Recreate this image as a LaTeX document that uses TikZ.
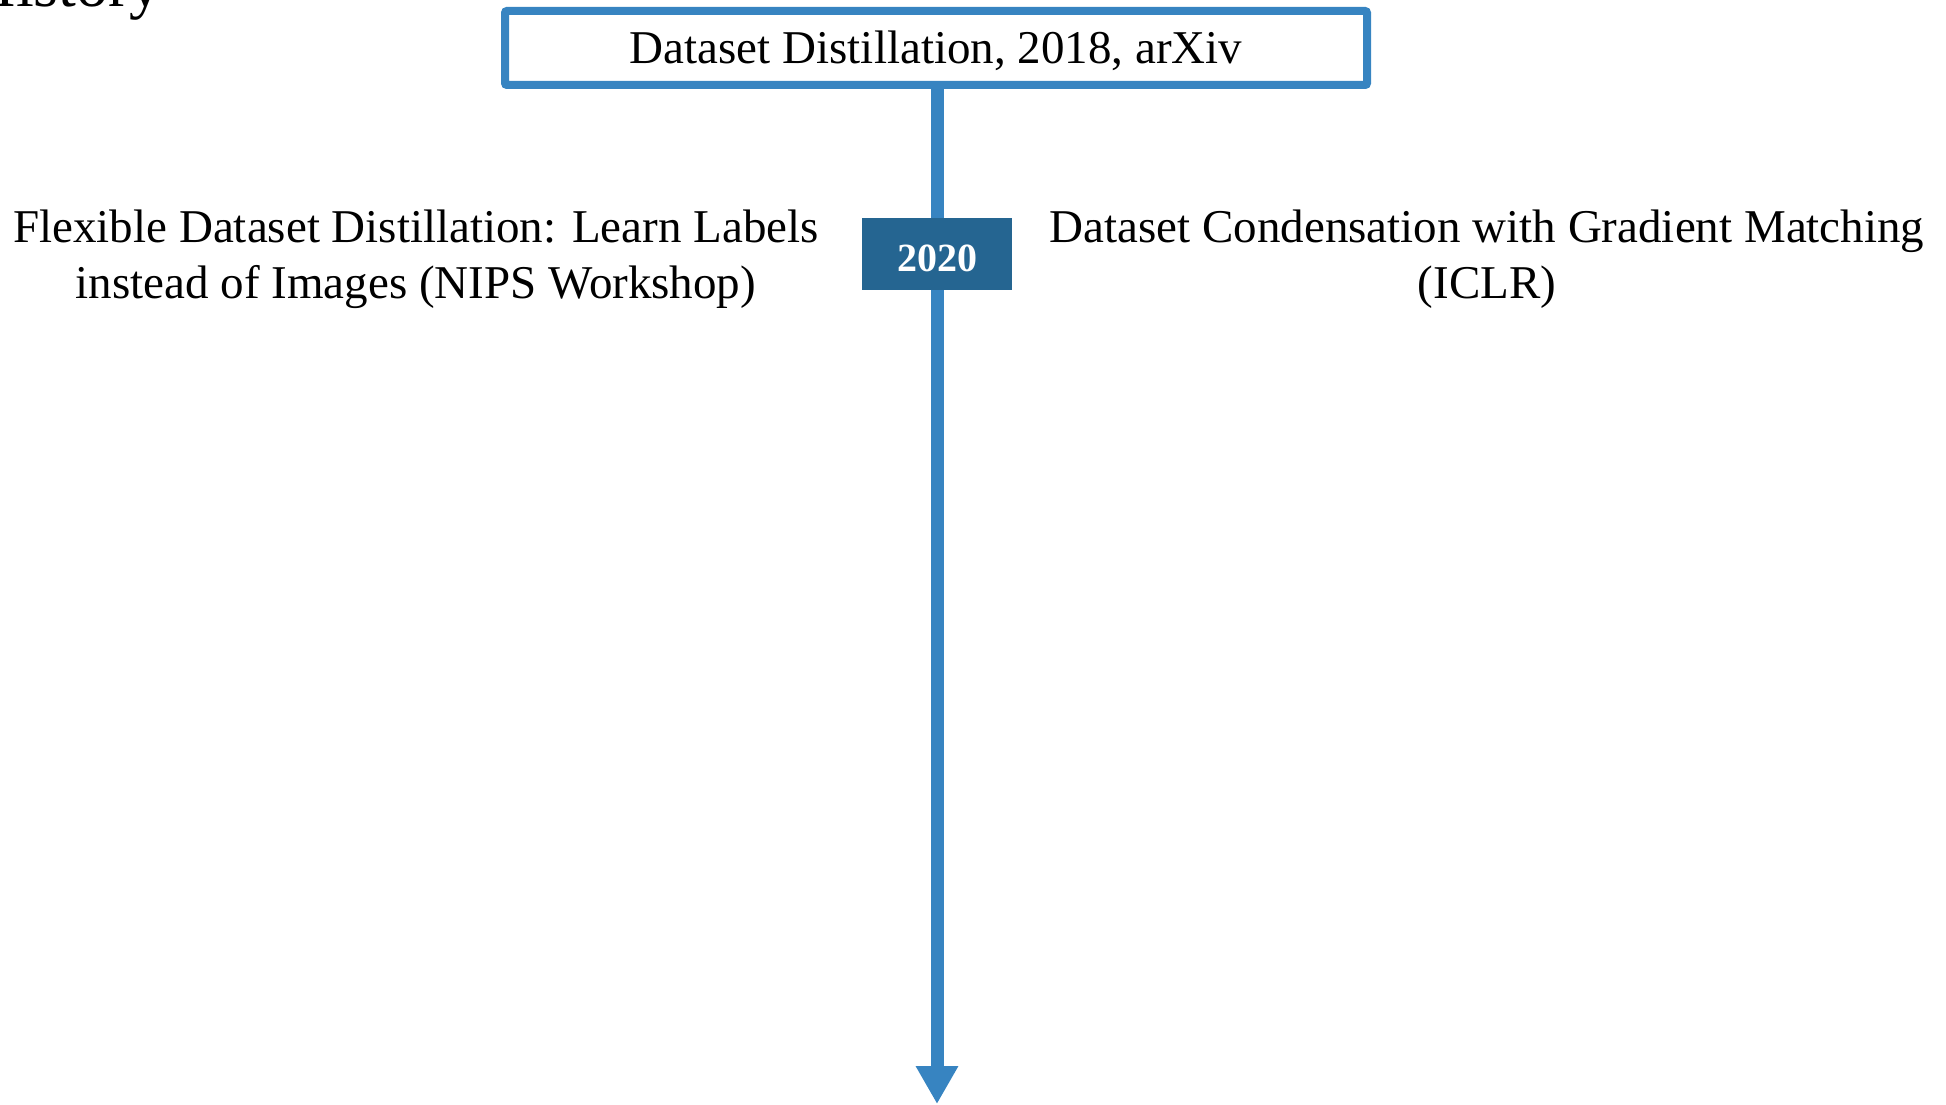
\documentclass[tikz,border=0pt]{standalone}
\usepackage{fontspec}
\setmainfont{Liberation Serif}
\usetikzlibrary{arrows.meta}
\definecolor{axisblue}{RGB}{55,132,193}
\definecolor{yearblue}{RGB}{37,101,145}
\tikzset{
  rootbox/.style={draw=axisblue, line width=8pt, fill=white, rounded corners=2pt,
    minimum width=862pt, minimum height=74pt, inner sep=0pt,
    text height=42pt, text depth=10pt,
    font=\fontsize{47}{56}\selectfont},
  yeartag/.style={fill=yearblue, text=white, minimum width=150pt, minimum height=72pt,
    inner sep=0pt, text height=35pt, text depth=0pt,
    font=\fontsize{40}{48}\selectfont\bfseries},
  paper/.style={align=center, inner sep=0pt, font=\fontsize{47}{56}\selectfont},
  axis/.style={draw=axisblue, line width=13pt, -{Triangle[width=40pt,length=38pt]}}
}
\begin{document}
\begin{tikzpicture}[x=1pt, y=-1pt]
\useasboundingbox (0,0) rectangle (1946,1105);
% section heading, partly above the page
\node[anchor=base east, inner sep=0pt, font=\fontsize{64}{72}\selectfont] (title) at (162,7) {History};
% root paper
\node[rootbox] (root) at (936,48) {Dataset Distillation, 2018, arXiv};
% timeline axis
\coordinate (axisend) at (937,1104);
\draw[axis] (root.south -| axisend) -- (axisend);
% year marker
\node[yeartag] (y2020) at (937,254) {2020};
% papers of 2020
\node[paper] (flex) at (416,259) {Flexible Dataset Distillation: Learn Labels\\instead of Images (NIPS Workshop)};
\node[paper] (dcgm) at (1487,259) {Dataset Condensation with Gradient Matching\\(ICLR)};
\end{tikzpicture}
\end{document}
